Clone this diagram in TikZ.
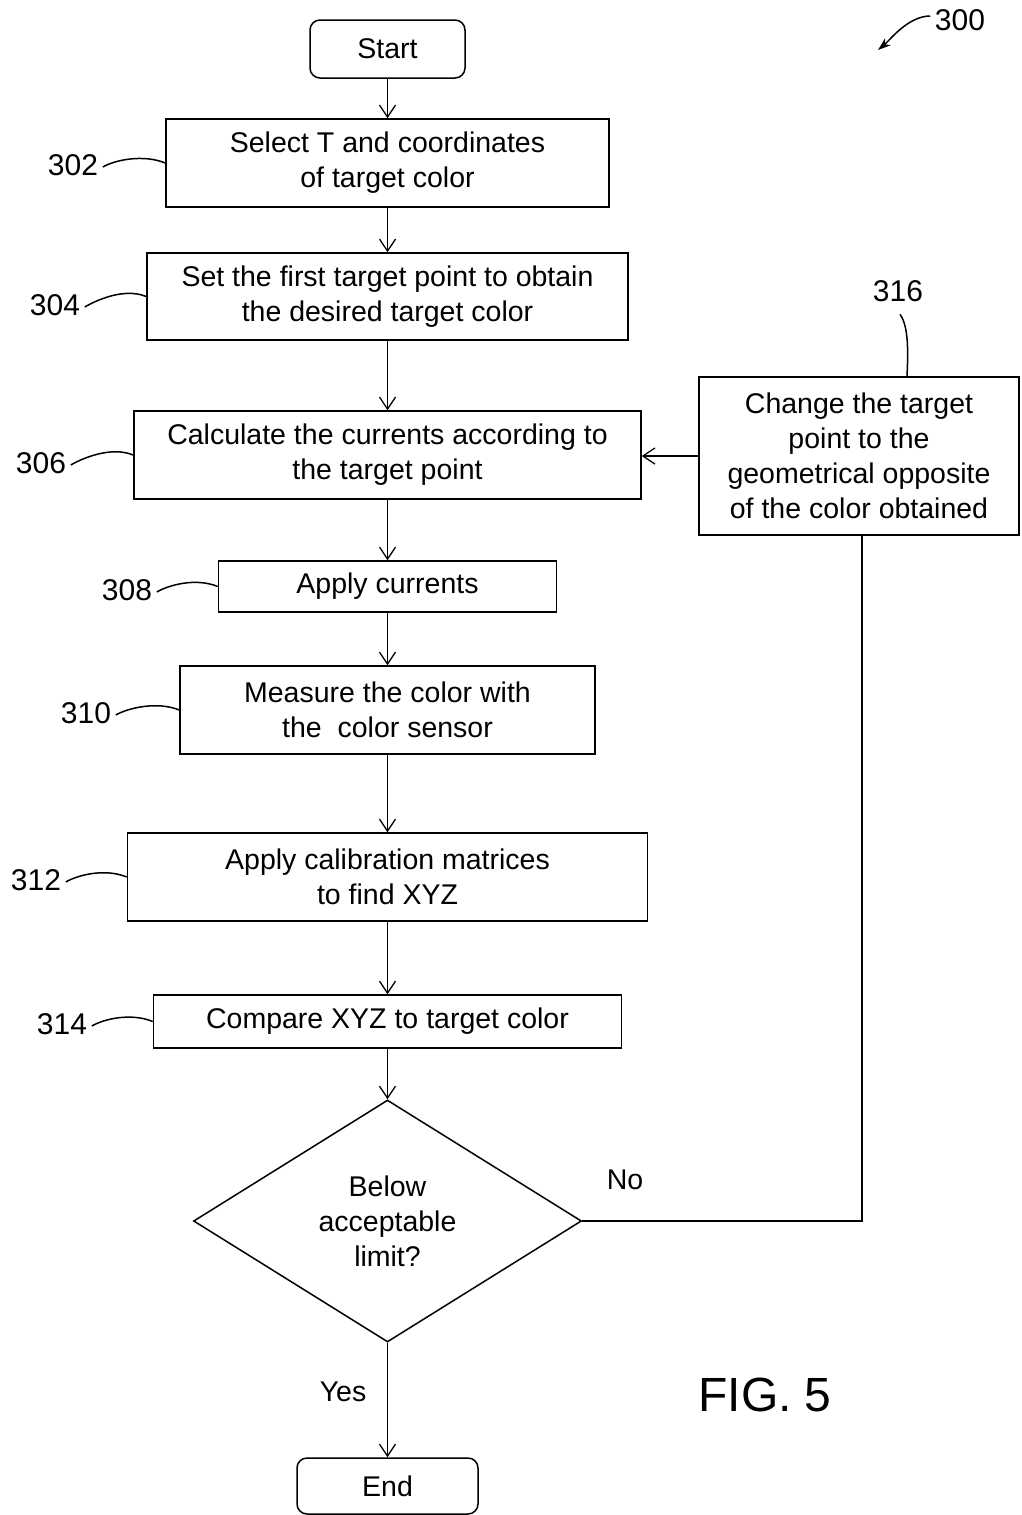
\documentclass[tikz,border=0pt]{standalone}
\usepackage{fontspec}
\setmainfont{Liberation Sans}
\usetikzlibrary{arrows.meta,shapes.geometric}
\newcommand\bodyfont{\fontsize{28.5}{35}\selectfont}
\newcommand\numfont{\fontsize{30}{36}\selectfont}
\begin{document}
\begin{tikzpicture}[x=1pt,y=-1pt,
  line width=1.5pt,
  stepbox/.style={draw, align=center, font=\bodyfont, inner sep=0pt},
  termbox/.style={stepbox, rounded corners=10pt},
  decision/.style={draw, diamond, aspect=1.6, inner sep=0pt, align=center, font=\bodyfont},
  reflab/.style={font=\numfont, inner sep=0pt},
  plainlab/.style={font=\bodyfont, inner sep=0pt},
  arr/.style={-{Straight Barb[length=12pt,width=16pt,line width=1.3pt]}},
  lead/.style={line width=1.5pt}
]
\useasboundingbox (0,0) rectangle (1021,1515);

% nodes
\node[termbox, minimum width=155pt, minimum height=58pt] (start) at (387.5,49) {Start};
\node[stepbox, minimum width=443pt, minimum height=88pt] (b302) at (387.5,163) {Select T and coordinates\\of target color};
\node[stepbox, minimum width=481pt, minimum height=87pt] (b304) at (387.5,296.5) {Set the first target point to obtain\\the desired target color};
\node[stepbox, minimum width=507pt, minimum height=88pt] (b306) at (387.5,455) {Calculate the currents according to\\the target point};
\node[stepbox, minimum width=338pt, minimum height=51pt] (b308) at (387.5,586.5) {Apply currents};
\node[stepbox, minimum width=415pt, minimum height=88pt] (b310) at (387.5,710) {Measure the color with\\the\ \ color sensor};
\node[stepbox, minimum width=520pt, minimum height=88pt] (b312) at (387.5,877) {Apply calibration matrices\\to find XYZ};
\node[stepbox, minimum width=468pt, minimum height=53pt] (b314) at (387.5,1021.5) {Compare XYZ to target color};
\node[decision, minimum width=388pt, minimum height=242pt] (dia) at (387.5,1221) {Below\\acceptable\\limit?};
\node[termbox, minimum width=181pt, minimum height=56pt] (end) at (387.5,1486) {End};
\node[stepbox, minimum width=320pt, minimum height=158pt] (b316) at (859,456) {Change the target\\point to the\\geometrical opposite\\of the color obtained};

% reference labels
\node[reflab] (l300) at (960,20) {300};
\node[reflab] (l302) at (73,165) {302};
\node[reflab] (l304) at (55,305) {304};
\node[reflab] (l306) at (41,463) {306};
\node[reflab] (l308) at (127,590) {308};
\node[reflab] (l310) at (86,713) {310};
\node[reflab] (l312) at (36,880) {312};
\node[reflab] (l314) at (62,1024) {314};
\node[reflab] (l316) at (898,291) {316};
\node[plainlab] (no) at (625,1180) {No};
\node[plainlab] (yes) at (343,1392) {Yes};
\node[font=\fontsize{48}{54}\selectfont, inner sep=0pt] (fig) at (765,1395) {FIG. 5};

% main flow
\draw[arr] (start.south) -- (b302.north);
\draw[arr] (b302.south) -- (b304.north);
\draw[arr] (b304.south) -- (b306.north);
\draw[arr] (b306.south) -- (b308.north);
\draw[arr] (b308.south) -- (b310.north);
\draw[arr] (b310.south) -- (b312.north);
\draw[arr] (b312.south) -- (b314.north);
\draw[arr] (b314.south) -- (dia.north);
\draw[arr] (dia.south) -- (end.north);
% loop
\draw (dia.east) -| ([xshift=3pt]b316.south);
\draw[arr] (b316.west) -- (b316.west -| b306.east);

% leader lines
\draw[lead] ([xshift=4pt,yshift=-2pt]l302.east) .. controls +(12,-7) and +(-22,-9) .. (b302.west);
\draw[lead] ([xshift=4pt,yshift=-2pt]l304.east) .. controls +(12,-7) and +(-22,-9) .. (b304.west);
\draw[lead] ([xshift=4pt,yshift=-2pt]l306.east) .. controls +(12,-7) and +(-22,-9) .. (b306.west);
\draw[lead] ([xshift=4pt,yshift=-2pt]l308.east) .. controls +(12,-7) and +(-22,-9) .. (b308.west);
\draw[lead] ([xshift=4pt,yshift=-2pt]l310.east) .. controls +(12,-7) and +(-22,-9) .. (b310.west);
\draw[lead] ([xshift=4pt,yshift=-2pt]l312.east) .. controls +(12,-7) and +(-22,-9) .. (b312.west);
\draw[lead] ([xshift=4pt,yshift=-2pt]l314.east) .. controls +(12,-7) and +(-22,-9) .. (b314.west);
\draw[lead] ([xshift=2pt,yshift=-12pt]l316.south) .. controls +(9,12) and +(1,-22) .. ([xshift=48pt]b316.north);
\draw[lead, -{Stealth[length=13pt,width=9pt]}] ([xshift=-4pt,yshift=4pt]l300.west) .. controls +(-22,0) and +(12,-10) .. (878,50);
\end{tikzpicture}
\end{document}
